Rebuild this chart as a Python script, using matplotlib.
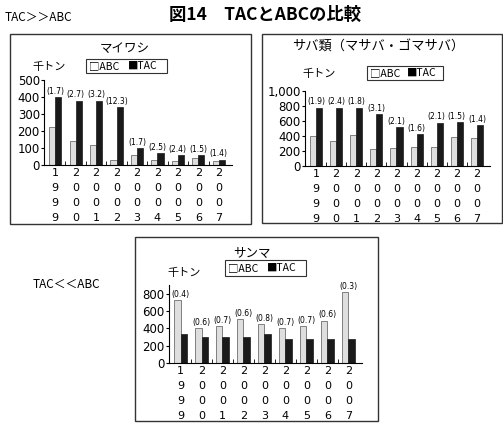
import matplotlib.pyplot as plt
import matplotlib.patches as mpatches
import numpy as np

plt.rcParams['font.family'] = ['Noto Sans CJK JP', 'DejaVu Sans']

years = ['1999', '2000', '2001', '2002', '2003', '2004', '2005', '2006', '2007']

# マイワシ
iwashi_abc = [225, 140, 115, 28, 60, 28, 25, 40, 22]
iwashi_tac = [400, 378, 378, 340, 100, 70, 60, 60, 32]
iwashi_ratio = ['1.7', '2.7', '3.2', '12.3', '1.7', '2.5', '2.4', '1.5', '1.4']

# サバ類
saba_abc = [400, 330, 410, 225, 240, 260, 260, 385, 380]
saba_tac = [780, 780, 780, 690, 520, 430, 580, 590, 550]
saba_ratio = ['1.9', '2.4', '1.8', '3.1', '2.1', '1.6', '2.1', '1.5', '1.4']

# サンマ
sanma_abc = [730, 400, 430, 510, 450, 400, 430, 490, 820]
sanma_tac = [330, 300, 300, 300, 330, 280, 280, 280, 280]
sanma_ratio = ['0.4', '0.6', '0.7', '0.6', '0.8', '0.7', '0.7', '0.6', '0.3']

W, H = 503, 425
fig = plt.figure(figsize=(W / 100, H / 100), dpi=100)


def px(x0, y0, x1, y1):
    # pixel box (top-left origin) -> figure fraction rect
    return [x0 / W, 1 - y1 / H, (x1 - x0) / W, (y1 - y0) / H]


def frame(x0, y0, x1, y1, lw=1.0):
    r = px(x0, y0, x1, y1)
    fig.patches.append(mpatches.Rectangle((r[0], r[1]), r[2], r[3], transform=fig.transFigure,
                                          fill=False, edgecolor='#333333', linewidth=lw))


def ftext(x, y, s, **kw):
    fig.text(x / W, 1 - y / H, s, **kw)


def panel(rect, abc, tac, ratio, ymax, yticks, yfmt):
    ax = fig.add_axes(px(*rect))
    x = np.arange(len(years))
    w = 0.3
    ax.bar(x - w / 2, abc, w, color='#dedede', edgecolor='#555555', linewidth=0.5)
    ax.bar(x + w / 2, tac, w, color='#1a1a1a', edgecolor='#1a1a1a', linewidth=0.5)
    for i in range(len(years)):
        top = max(abc[i], tac[i])
        ax.text(x[i], top + ymax * 0.015, '(' + ratio[i] + ')', ha='center', va='bottom',
                fontsize=5.5, family='DejaVu Sans')
    ax.set_xlim(-0.55, len(years) - 0.35)
    ax.set_ylim(0, ymax)
    ax.set_yticks(yticks)
    ax.set_yticklabels([yfmt(v) for v in yticks], fontsize=8.5, family='DejaVu Sans')
    ax.set_xticks(x)
    ax.set_xticklabels(['\n'.join(y) for y in years], fontsize=8, family='DejaVu Sans',
                       linespacing=1.65)
    ax.set_xticks(x[:-1] + 0.5, minor=True)
    ax.tick_params(axis='x', which='major', length=0, pad=2)
    ax.tick_params(axis='x', which='minor', length=3, direction='in')
    ax.tick_params(axis='y', length=2, direction='out', pad=1)
    for s in ['top', 'right']:
        ax.spines[s].set_visible(False)
    ax.patch.set_alpha(0)
    return ax


def legend_box(x0, y0, x1, y1):
    frame(x0, y0, x1, y1, lw=0.8)
    cy = (y0 + y1) / 2
    ftext(x0 + 3, cy, '□ABC', fontsize=7.5, va='center', ha='left')
    ftext(x0 + (x1 - x0) * 0.52, cy, '■TAC', fontsize=7.5, va='center', ha='left')


# header texts
ftext(265, 15, '図14　TACとABCの比較', fontsize=12.5, weight='bold', ha='center', va='center')
ftext(5, 17, 'TAC＞＞ABC', fontsize=8.5, ha='left', va='center')
ftext(33, 284, 'TAC＜＜ABC', fontsize=8.5, ha='left', va='center')

# panel 1: マイワシ
frame(10, 34, 251, 224)
ftext(125, 48, 'マイワシ', fontsize=9, ha='center', va='center')
ftext(32, 67, '千トン', fontsize=8, ha='left', va='center')
legend_box(86, 59, 167, 73)
panel((44, 80, 232, 165), iwashi_abc, iwashi_tac, iwashi_ratio, 500,
      [0, 100, 200, 300, 400, 500], lambda v: str(v))

# panel 2: サバ類
frame(262, 34, 502, 223)
ftext(378, 47, 'サバ類（マサバ・ゴマサバ）', fontsize=9.5, ha='center', va='center')
ftext(302, 74, '千トン', fontsize=8, ha='left', va='center')
legend_box(367, 66, 443, 80)
panel((305, 91, 490, 166), saba_abc, saba_tac, saba_ratio, 1000,
      [0, 200, 400, 600, 800, 1000], lambda v: f'{v:,}')

# panel 3: サンマ
frame(135, 237, 378, 421)
ftext(252, 253, 'サンマ', fontsize=9, ha='center', va='center')
ftext(167, 273, '千トン', fontsize=8, ha='left', va='center')
legend_box(225, 260, 306, 276)
panel((169, 285, 362, 363), sanma_abc, sanma_tac, sanma_ratio, 900,
      [0, 200, 400, 600, 800], lambda v: str(v))

fig.savefig('out.png', dpi=100)
